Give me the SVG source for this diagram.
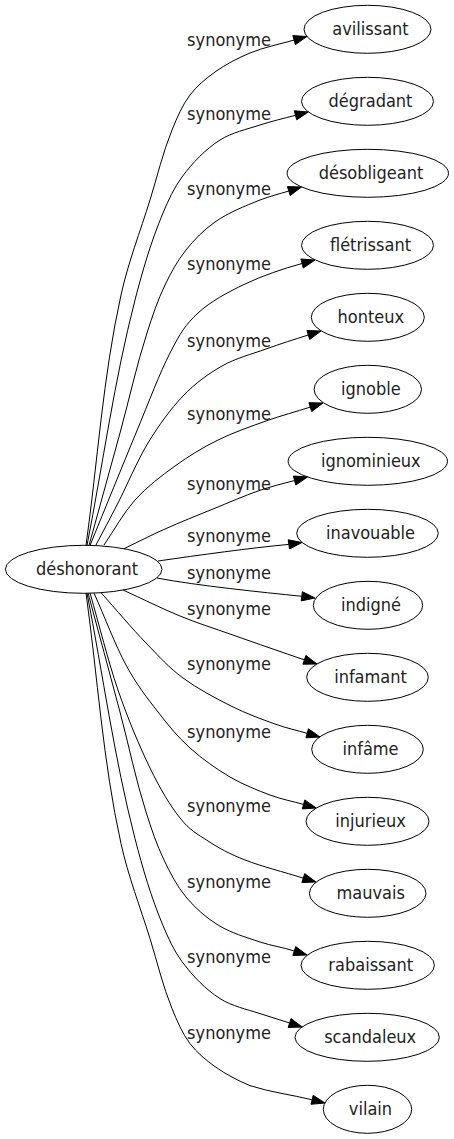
<svg xmlns="http://www.w3.org/2000/svg" width="454" height="1139" viewBox="0 0 454 1139">
<style>
text{font-family:"DejaVu Sans Condensed","DejaVu Sans",sans-serif;font-stretch:condensed;font-size:18px;fill:#222;text-anchor:middle}
.n ellipse{fill:none;stroke:#000;stroke-width:1}
.e path{fill:none;stroke:#000;stroke-width:1}
.e polygon{fill:#000;stroke:#000;stroke-width:1}
</style>
<rect width="454" height="1139" fill="#fff"/>
<g id="edges" class="e">
<path d="M86,545.5 C97.6,462 102.8,377.3 121,295 C128.1,262.7 140.2,231.6 150,200 C157.3,176.6 162.7,152.7 172,130 C177,117.9 182.1,105.4 190,95 C196.8,86 205.8,78.6 215,72 C225.8,64.3 237.7,58.1 250,53 C264.2,47.2 279.4,44.2 294.1,40.1"/>
<polygon points="306.9,36.5 295.4,44.6 292.8,35.6"/>
<text x="229" y="46">synonyme</text>
<path d="M87,545.5 C103,463.6 114.2,380.7 135,300 C142.6,270.5 151.2,241.1 163,213 C168.3,200.5 173.9,187.9 182,177 C192.6,162.8 205.1,149.5 220,140 C232,132.4 246.5,129.4 260,125 C271.7,121.2 283.6,118.4 295.5,115.3"/>
<polygon points="308.4,112 296.7,119.8 294.3,110.8"/>
<text x="229" y="120">synonyme</text>
<path d="M89,545.5 C99.3,508 109.7,470.5 120,433 C129.1,399.7 136.4,365.8 147,333 C152.2,316.7 157.6,300.4 165,285 C170.9,272.7 177.5,260.6 186,250 C194.3,239.5 204,229.7 215,222 C228.7,212.4 244.5,206.2 260,200 C269.4,196.3 279.2,194 288.8,191"/>
<polygon points="301.5,187 290.2,195.5 287.4,186.6"/>
<text x="229" y="195">synonyme</text>
<path d="M90,545.5 C105.3,508 122.7,465.1 136,433 S159.7,373 170,353 S185.5,324.5 198,313 S227.65,292.25 245,284 S282.6,268.8 302.1,263.5"/>
<polygon points="315,260 303.3,268 300.9,259"/>
<text x="229" y="270">synonyme</text>
<path d="M96,545 C103.3,531 109.3,520 118,503 S137.2,460.8 148,443 S170.7,408.8 183,396 S208.2,373.8 222,366 S251.6,354.2 266,349 S294.1,339.5 308.3,335"/>
<polygon points="321,331 309.7,339.5 306.9,330.5"/>
<text x="229" y="347">synonyme</text>
<path d="M104,545 C114.3,530 123.2,513.2 135,500 S161.2,476 175,466 S202.8,447.5 218,440 S250.6,426.5 266,421 S295.6,411.8 310.3,407.1"/>
<polygon points="323,403 311.7,411.6 308.9,402.7"/>
<text x="229" y="420">synonyme</text>
<path d="M124,548.7 C137.7,542.1 150.2,535.6 165,529 S197.5,515.3 213,509 S244.4,495.75 258,491 S282.3,483.8 294.6,480.5"/>
<polygon points="307.5,477 295.8,485 293.4,476"/>
<text x="229" y="490">synonyme</text>
<path d="M158,561 C200,555 250,548 288.8,544.4"/>
<polygon points="302,542.5 289.5,549 288.2,539.8"/>
<text x="229" y="542">synonyme</text>
<path d="M156.7,578 C200,586 260,592 301.8,596.3"/>
<polygon points="315,598 301.2,600.9 302.4,591.7"/>
<text x="229" y="578.5">synonyme</text>
<path d="M123,590 C142,598.7 162.2,608.7 180,616 S215,628.7 230,634 S257.6,643.7 270,648 S292.9,656 304.4,659.8"/>
<polygon points="317,664 302.9,664.2 305.9,655.4"/>
<text x="229" y="615">synonyme</text>
<path d="M101,592.7 C116,609.5 132.3,628.8 146,643 S168.8,667.5 183,678 S215.7,698.3 231,706 S262.3,719.45 275,724 S296.5,730.2 307.2,733.3"/>
<polygon points="320,737 305.9,737.8 308.5,728.8"/>
<text x="229" y="670">synonyme</text>
<path d="M94,593 C104.7,617 115.3,645.2 126,665 S147.3,698.2 158,712 S178,737.2 190,748 S216.7,769.2 230,777 S257.75,790.4 270,795 S292.3,801.2 303.5,804.4"/>
<polygon points="316.3,808 302.3,808.9 304.8,799.9"/>
<text x="229" y="738">synonyme</text>
<path d="M90,593 C99.3,625.3 108,660.8 118,690 S139.7,746.7 150,768 S170.3,805.8 180,818 S197.2,834 208,841 S229.1,853.8 245,860 S283.9,872.1 303.3,878.1"/>
<polygon points="316,882 301.9,882.6 304.7,873.6"/>
<text x="229" y="812">synonyme</text>
<path d="M88,593 C98.7,632.7 109.5,672.3 120,712 C128.8,745.3 135.6,779.2 146,812 C151.2,828.3 156.6,844.6 164,860 C170.2,872.9 176.8,886 186,897 C195.1,907.9 205.9,917.6 218,925 C230.9,932.9 245.7,937.2 260,942 C271.2,945.7 283.1,947.4 294.3,951"/>
<polygon points="307,955 292.9,955.5 295.7,946.6"/>
<text x="229" y="888">synonyme</text>
<path d="M87,593.1 C103,674.9 114.2,757.9 135,838.6 C142.6,868.1 151.2,897.5 163,925.6 C168.3,938.1 173.9,950.7 182,961.6 C192.6,975.8 205.1,989.1 220,998.6 C232,1006.2 246.5,1009.2 260,1013.6 C269.9,1016.8 279.7,1019.9 289.6,1023"/>
<polygon points="302.3,1027 288.2,1027.5 291,1018.6"/>
<text x="229" y="963">synonyme</text>
<path d="M86,593.1 C97.6,676.6 102.8,761.3 121,843.6 C128.1,875.9 140.2,907 150,938.6 C157.3,962 162.7,985.9 172,1008.6 C177,1020.7 182.1,1033.2 190,1043.6 C196.8,1052.6 205.8,1060 215,1066.6 C225.8,1074.3 237.7,1080.5 250,1085.6 C270.1,1092.2 291.5,1094.7 312.1,1099.8"/>
<polygon points="325,1103 311,1104.3 313.2,1095.3"/>
<text x="229" y="1039">synonyme</text>
</g>
<g id="deshonorant" class="n"><ellipse cx="83.7" cy="569.3" rx="78.3" ry="24"/><text x="87" y="575.3">déshonorant</text></g>
<g id="avilissant" class="n"><ellipse cx="367.5" cy="29.3" rx="63.5" ry="24"/><text x="370.5" y="35.3">avilissant</text></g>
<g id="degradant" class="n"><ellipse cx="367.5" cy="101.3" rx="66" ry="24"/><text x="370.5" y="107.3">dégradant</text></g>
<g id="desobligeant" class="n"><ellipse cx="367.8" cy="173.3" rx="80.7" ry="24"/><text x="371" y="179.3">désobligeant</text></g>
<g id="fletrissant" class="n"><ellipse cx="367.5" cy="245.3" rx="66" ry="24"/><text x="370.5" y="251.3">flétrissant</text></g>
<g id="honteux" class="n"><ellipse cx="367.8" cy="317.3" rx="56.5" ry="24"/><text x="370.8" y="323.3">honteux</text></g>
<g id="ignoble" class="n"><ellipse cx="367.8" cy="389.3" rx="53.7" ry="24"/><text x="370.8" y="395.3">ignoble</text></g>
<g id="ignominieux" class="n"><ellipse cx="367.8" cy="461.3" rx="79.7" ry="24"/><text x="370.8" y="467.3">ignominieux</text></g>
<g id="inavouable" class="n"><ellipse cx="367.5" cy="533.3" rx="70.8" ry="24"/><text x="370.5" y="539.3">inavouable</text></g>
<g id="indigne" class="n"><ellipse cx="368" cy="605.3" rx="54.7" ry="24"/><text x="371" y="611.3">indigné</text></g>
<g id="infamant" class="n"><ellipse cx="367.5" cy="677.3" rx="60.8" ry="24"/><text x="370.5" y="683.3">infamant</text></g>
<g id="infame" class="n"><ellipse cx="367.5" cy="749.3" rx="55.8" ry="24"/><text x="370.5" y="755.3">infâme</text></g>
<g id="injurieux" class="n"><ellipse cx="367.5" cy="821.3" rx="61.5" ry="24"/><text x="370.5" y="827.3">injurieux</text></g>
<g id="mauvais" class="n"><ellipse cx="367.7" cy="893.3" rx="58.3" ry="24"/><text x="370.7" y="899.3">mauvais</text></g>
<g id="rabaissant" class="n"><ellipse cx="367.7" cy="965.3" rx="66.7" ry="24"/><text x="370.7" y="971.3">rabaissant</text></g>
<g id="scandaleux" class="n"><ellipse cx="367.2" cy="1037.3" rx="72.2" ry="24"/><text x="370.2" y="1043.3">scandaleux</text></g>
<g id="vilain" class="n"><ellipse cx="367.5" cy="1109.3" rx="44.2" ry="24"/><text x="370.5" y="1115.3">vilain</text></g>
</svg>
